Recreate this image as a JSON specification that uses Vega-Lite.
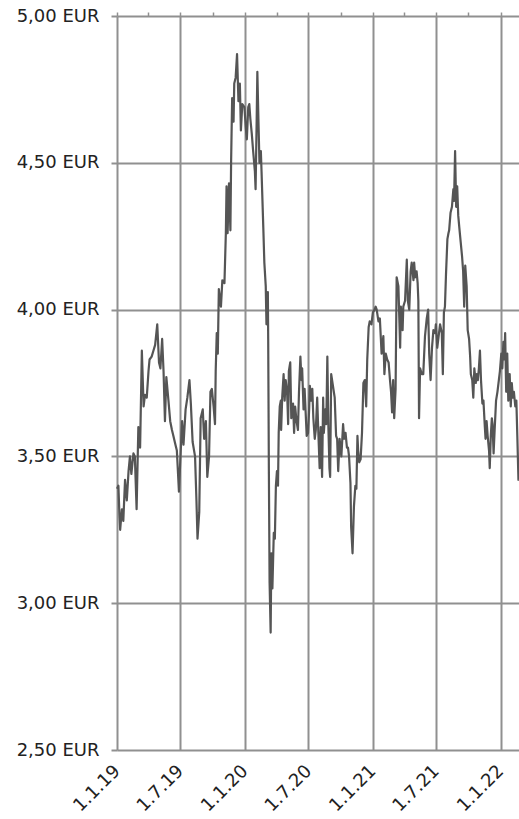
{
  "$schema": "https://vega.github.io/schema/vega-lite/v6.json",
  "width": 402,
  "height": 734,
  "autosize": "none",
  "padding": {"left": 117, "top": 16, "right": 0, "bottom": 69},
  "background": "white",
  "config": {"view": {"stroke": null}, "font": "DejaVu Sans", "axis": {"labelFont": "DejaVu Sans"}},
  "data": {"values": [
    {"date":"2019-01-01","price":3.39},{"date":"2019-01-05","price":3.40},{"date":"2019-01-08","price":3.30},{"date":"2019-01-10","price":3.25},
    {"date":"2019-01-15","price":3.32},{"date":"2019-01-19","price":3.28},{"date":"2019-01-24","price":3.42},{"date":"2019-01-29","price":3.35},
    {"date":"2019-02-03","price":3.45},{"date":"2019-02-07","price":3.50},{"date":"2019-02-11","price":3.44},{"date":"2019-02-17","price":3.51},
    {"date":"2019-02-21","price":3.50},{"date":"2019-02-26","price":3.32},{"date":"2019-03-03","price":3.60},{"date":"2019-03-08","price":3.53},
    {"date":"2019-03-13","price":3.86},{"date":"2019-03-18","price":3.67},{"date":"2019-03-22","price":3.71},{"date":"2019-03-27","price":3.70},
    {"date":"2019-04-01","price":3.79},{"date":"2019-04-04","price":3.83},{"date":"2019-04-10","price":3.84},{"date":"2019-04-15","price":3.86},
    {"date":"2019-04-20","price":3.88},{"date":"2019-04-26","price":3.95},{"date":"2019-05-01","price":3.82},{"date":"2019-05-05","price":3.80},
    {"date":"2019-05-10","price":3.90},{"date":"2019-05-14","price":3.79},{"date":"2019-05-18","price":3.62},{"date":"2019-05-22","price":3.77},
    {"date":"2019-05-28","price":3.69},{"date":"2019-06-02","price":3.62},{"date":"2019-06-07","price":3.59},{"date":"2019-06-11","price":3.57},
    {"date":"2019-06-17","price":3.54},{"date":"2019-06-21","price":3.52},{"date":"2019-06-27","price":3.38},{"date":"2019-07-01","price":3.49},
    {"date":"2019-07-06","price":3.62},{"date":"2019-07-10","price":3.54},{"date":"2019-07-16","price":3.66},{"date":"2019-07-21","price":3.70},
    {"date":"2019-07-27","price":3.76},{"date":"2019-07-31","price":3.68},{"date":"2019-08-05","price":3.55},{"date":"2019-08-12","price":3.50},
    {"date":"2019-08-16","price":3.35},{"date":"2019-08-19","price":3.22},{"date":"2019-08-24","price":3.31},{"date":"2019-08-28","price":3.63},
    {"date":"2019-09-03","price":3.66},{"date":"2019-09-07","price":3.56},{"date":"2019-09-12","price":3.62},{"date":"2019-09-16","price":3.43},
    {"date":"2019-09-21","price":3.50},{"date":"2019-09-25","price":3.72},{"date":"2019-09-29","price":3.73},{"date":"2019-10-04","price":3.67},
    {"date":"2019-10-08","price":3.61},{"date":"2019-10-10","price":3.79},{"date":"2019-10-13","price":3.92},{"date":"2019-10-16","price":3.85},
    {"date":"2019-10-19","price":4.07},{"date":"2019-10-25","price":4.01},{"date":"2019-10-29","price":4.10},{"date":"2019-11-04","price":4.09},
    {"date":"2019-11-08","price":4.26},{"date":"2019-11-10","price":4.42},{"date":"2019-11-13","price":4.26},{"date":"2019-11-17","price":4.43},
    {"date":"2019-11-21","price":4.27},{"date":"2019-11-23","price":4.50},{"date":"2019-11-26","price":4.72},{"date":"2019-11-30","price":4.64},
    {"date":"2019-12-02","price":4.77},{"date":"2019-12-06","price":4.79},{"date":"2019-12-10","price":4.87},{"date":"2019-12-14","price":4.71},
    {"date":"2019-12-18","price":4.77},{"date":"2019-12-21","price":4.61},{"date":"2019-12-25","price":4.70},{"date":"2019-12-31","price":4.69},
    {"date":"2020-01-04","price":4.62},{"date":"2020-01-07","price":4.58},{"date":"2020-01-11","price":4.69},{"date":"2020-01-14","price":4.70},
    {"date":"2020-01-17","price":4.65},{"date":"2020-01-21","price":4.60},{"date":"2020-01-25","price":4.54},{"date":"2020-01-30","price":4.47},
    {"date":"2020-02-01","price":4.41},{"date":"2020-02-04","price":4.64},{"date":"2020-02-06","price":4.81},{"date":"2020-02-09","price":4.65},
    {"date":"2020-02-12","price":4.50},{"date":"2020-02-16","price":4.54},{"date":"2020-02-18","price":4.47},{"date":"2020-02-23","price":4.28},
    {"date":"2020-02-26","price":4.16},{"date":"2020-03-01","price":4.08},{"date":"2020-03-03","price":3.95},{"date":"2020-03-07","price":4.06},
    {"date":"2020-03-08","price":3.90},{"date":"2020-03-10","price":3.44},{"date":"2020-03-12","price":3.07},{"date":"2020-03-15","price":2.90},
    {"date":"2020-03-17","price":3.17},{"date":"2020-03-20","price":3.05},{"date":"2020-03-24","price":3.24},{"date":"2020-03-27","price":3.22},
    {"date":"2020-03-30","price":3.40},{"date":"2020-04-02","price":3.45},{"date":"2020-04-05","price":3.40},{"date":"2020-04-07","price":3.58},
    {"date":"2020-04-10","price":3.67},{"date":"2020-04-13","price":3.69},{"date":"2020-04-14","price":3.59},{"date":"2020-04-17","price":3.70},
    {"date":"2020-04-21","price":3.78},{"date":"2020-04-24","price":3.69},{"date":"2020-04-27","price":3.76},{"date":"2020-05-01","price":3.72},
    {"date":"2020-05-04","price":3.61},{"date":"2020-05-06","price":3.79},{"date":"2020-05-10","price":3.82},{"date":"2020-05-13","price":3.63},
    {"date":"2020-05-18","price":3.68},{"date":"2020-05-21","price":3.58},{"date":"2020-05-24","price":3.67},{"date":"2020-05-28","price":3.62},
    {"date":"2020-06-01","price":3.59},{"date":"2020-06-04","price":3.72},{"date":"2020-06-08","price":3.84},{"date":"2020-06-11","price":3.76},
    {"date":"2020-06-13","price":3.80},{"date":"2020-06-17","price":3.66},{"date":"2020-06-20","price":3.73},{"date":"2020-06-23","price":3.65},
    {"date":"2020-06-26","price":3.57},{"date":"2020-06-30","price":3.58},{"date":"2020-07-03","price":3.66},{"date":"2020-07-05","price":3.74},
    {"date":"2020-07-09","price":3.69},{"date":"2020-07-12","price":3.73},{"date":"2020-07-15","price":3.63},{"date":"2020-07-19","price":3.56},
    {"date":"2020-07-22","price":3.59},{"date":"2020-07-26","price":3.70},{"date":"2020-07-29","price":3.59},{"date":"2020-08-02","price":3.46},
    {"date":"2020-08-05","price":3.60},{"date":"2020-08-09","price":3.43},{"date":"2020-08-12","price":3.70},{"date":"2020-08-14","price":3.58},
    {"date":"2020-08-18","price":3.66},{"date":"2020-08-21","price":3.61},{"date":"2020-08-24","price":3.84},{"date":"2020-08-27","price":3.60},
    {"date":"2020-08-30","price":3.46},{"date":"2020-09-01","price":3.43},{"date":"2020-09-04","price":3.78},{"date":"2020-09-09","price":3.74},
    {"date":"2020-09-14","price":3.70},{"date":"2020-09-18","price":3.57},{"date":"2020-09-21","price":3.56},{"date":"2020-09-24","price":3.45},
    {"date":"2020-09-28","price":3.56},{"date":"2020-10-03","price":3.50},{"date":"2020-10-08","price":3.61},{"date":"2020-10-11","price":3.56},
    {"date":"2020-10-15","price":3.58},{"date":"2020-10-19","price":3.53},{"date":"2020-10-22","price":3.53},{"date":"2020-10-25","price":3.50},
    {"date":"2020-10-29","price":3.41},{"date":"2020-10-31","price":3.26},{"date":"2020-11-04","price":3.17},{"date":"2020-11-08","price":3.33},
    {"date":"2020-11-12","price":3.40},{"date":"2020-11-15","price":3.39},{"date":"2020-11-18","price":3.57},{"date":"2020-11-20","price":3.52},
    {"date":"2020-11-23","price":3.48},{"date":"2020-11-27","price":3.49},{"date":"2020-12-01","price":3.58},{"date":"2020-12-05","price":3.75},
    {"date":"2020-12-09","price":3.76},{"date":"2020-12-13","price":3.67},{"date":"2020-12-16","price":3.83},{"date":"2020-12-20","price":3.94},
    {"date":"2020-12-23","price":3.96},{"date":"2020-12-28","price":3.95},{"date":"2021-01-01","price":3.99},{"date":"2021-01-06","price":4.00},
    {"date":"2021-01-09","price":4.01},{"date":"2021-01-12","price":4.00},{"date":"2021-01-17","price":3.96},{"date":"2021-01-21","price":3.97},
    {"date":"2021-01-26","price":3.85},{"date":"2021-01-31","price":3.91},{"date":"2021-02-03","price":3.78},{"date":"2021-02-07","price":3.85},
    {"date":"2021-02-11","price":3.83},{"date":"2021-02-15","price":3.82},{"date":"2021-02-19","price":3.76},{"date":"2021-02-22","price":3.72},
    {"date":"2021-02-25","price":3.65},{"date":"2021-02-28","price":3.76},{"date":"2021-03-03","price":3.63},{"date":"2021-03-07","price":3.73},
    {"date":"2021-03-10","price":4.11},{"date":"2021-03-15","price":4.08},{"date":"2021-03-20","price":3.87},{"date":"2021-03-22","price":4.01},
    {"date":"2021-03-27","price":3.93},{"date":"2021-03-29","price":4.01},{"date":"2021-04-03","price":4.03},{"date":"2021-04-08","price":4.17},
    {"date":"2021-04-11","price":4.03},{"date":"2021-04-15","price":4.00},{"date":"2021-04-19","price":4.13},{"date":"2021-04-22","price":4.16},
    {"date":"2021-04-27","price":4.10},{"date":"2021-04-29","price":4.16},{"date":"2021-05-02","price":4.11},{"date":"2021-05-06","price":4.13},
    {"date":"2021-05-09","price":4.09},{"date":"2021-05-11","price":4.03},{"date":"2021-05-13","price":3.63},{"date":"2021-05-16","price":3.80},
    {"date":"2021-05-21","price":3.78},{"date":"2021-05-25","price":3.78},{"date":"2021-05-30","price":3.91},{"date":"2021-06-04","price":3.97},
    {"date":"2021-06-08","price":4.00},{"date":"2021-06-11","price":3.85},{"date":"2021-06-15","price":3.76},{"date":"2021-06-19","price":3.87},
    {"date":"2021-06-23","price":3.93},{"date":"2021-06-28","price":3.92},{"date":"2021-06-30","price":3.95},{"date":"2021-07-04","price":3.87},
    {"date":"2021-07-08","price":3.91},{"date":"2021-07-12","price":3.95},{"date":"2021-07-17","price":3.92},{"date":"2021-07-20","price":3.78},
    {"date":"2021-07-23","price":3.99},{"date":"2021-07-26","price":4.01},{"date":"2021-07-29","price":4.12},{"date":"2021-08-02","price":4.24},
    {"date":"2021-08-05","price":4.26},{"date":"2021-08-07","price":4.27},{"date":"2021-08-11","price":4.33},{"date":"2021-08-15","price":4.35},
    {"date":"2021-08-19","price":4.41},{"date":"2021-08-21","price":4.37},{"date":"2021-08-24","price":4.54},{"date":"2021-08-27","price":4.35},
    {"date":"2021-08-30","price":4.42},{"date":"2021-09-02","price":4.32},{"date":"2021-09-05","price":4.28},{"date":"2021-09-09","price":4.23},
    {"date":"2021-09-13","price":4.18},{"date":"2021-09-16","price":4.13},{"date":"2021-09-19","price":4.01},{"date":"2021-09-22","price":4.15},
    {"date":"2021-09-26","price":4.08},{"date":"2021-09-29","price":3.93},{"date":"2021-10-03","price":3.90},{"date":"2021-10-06","price":3.84},
    {"date":"2021-10-08","price":3.78},{"date":"2021-10-12","price":3.76},{"date":"2021-10-15","price":3.70},{"date":"2021-10-18","price":3.80},
    {"date":"2021-10-22","price":3.75},{"date":"2021-10-25","price":3.78},{"date":"2021-10-28","price":3.76},{"date":"2021-10-31","price":3.80},
    {"date":"2021-11-03","price":3.86},{"date":"2021-11-06","price":3.76},{"date":"2021-11-10","price":3.68},{"date":"2021-11-13","price":3.69},
    {"date":"2021-11-17","price":3.60},{"date":"2021-11-19","price":3.56},{"date":"2021-11-22","price":3.62},{"date":"2021-11-25","price":3.57},
    {"date":"2021-11-29","price":3.52},{"date":"2021-12-01","price":3.46},{"date":"2021-12-04","price":3.57},{"date":"2021-12-07","price":3.63},
    {"date":"2021-12-09","price":3.61},{"date":"2021-12-12","price":3.51},{"date":"2021-12-15","price":3.59},{"date":"2021-12-19","price":3.69},
    {"date":"2021-12-23","price":3.72},{"date":"2021-12-27","price":3.76},{"date":"2021-12-30","price":3.79},{"date":"2022-01-03","price":3.85},
    {"date":"2022-01-06","price":3.80},{"date":"2022-01-09","price":3.89},{"date":"2022-01-12","price":3.83},{"date":"2022-01-14","price":3.92},
    {"date":"2022-01-17","price":3.72},{"date":"2022-01-20","price":3.85},{"date":"2022-01-23","price":3.69},{"date":"2022-01-27","price":3.78},
    {"date":"2022-01-30","price":3.67},{"date":"2022-02-02","price":3.75},{"date":"2022-02-05","price":3.70},{"date":"2022-02-08","price":3.72},
    {"date":"2022-02-12","price":3.67},{"date":"2022-02-15","price":3.69},{"date":"2022-02-18","price":3.56},{"date":"2022-02-21","price":3.42},
    {"date":"2022-02-22","price":3.42}
  ]},
  "layer": [
    {
      "mark": {"type": "line", "color": "#555555", "strokeWidth": 2.2, "strokeJoin": "round"},
      "encoding": {
        "x": {
          "field": "date", "type": "temporal",
          "scale": {"type": "utc", "domain": [{"year": 2019, "month": 1, "date": 1, "utc": true}, {"year": 2022, "month": 2, "date": 22, "hours": 14, "utc": true}]},
          "axis": {
            "orient": "bottom", "title": null,
            "values": [
              {"year": 2019, "month": 1, "date": 1, "utc": true},
              {"year": 2019, "month": 7, "date": 1, "utc": true},
              {"year": 2020, "month": 1, "date": 1, "utc": true},
              {"year": 2020, "month": 7, "date": 1, "utc": true},
              {"year": 2021, "month": 1, "date": 1, "utc": true},
              {"year": 2021, "month": 7, "date": 1, "utc": true},
              {"year": 2022, "month": 1, "date": 1, "utc": true}
            ],
            "labelExpr": "utcFormat(datum.value, '%-d.%-m.%y')",
            "labelAngle": -45, "labelAlign": "right", "labelBaseline": "middle",
            "labelFontSize": 18, "labelFont": "DejaVu Sans", "labelColor": "#222222", "labelPadding": 18,
            "ticks": false, "domain": false,
            "grid": true, "gridColor": "#909090", "gridWidth": 2
          }
        },
        "y": {
          "field": "price", "type": "quantitative",
          "scale": {"domain": [2.5, 5], "zero": false, "nice": false},
          "axis": {
            "title": null, "values": [2.5, 3, 3.5, 4, 4.5, 5],
            "labelExpr": "replace(format(datum.value, '.2f'), '.', ',') + ' EUR'",
            "labelFontSize": 18, "labelFont": "DejaVu Sans", "labelColor": "#222222", "labelPadding": 12,
            "tickSize": 6, "tickColor": "#909090", "tickWidth": 2,
            "domain": false, "grid": true, "gridColor": "#909090", "gridWidth": 2
          }
        }
      }
    },
    {
      "mark": {"type": "line", "strokeOpacity": 0},
      "encoding": {
        "x": {
          "field": "date", "type": "temporal",
          "axis": {
            "orient": "top", "title": null, "labels": false, "domain": false, "grid": false,
            "tickSize": 4, "tickColor": "#909090", "tickWidth": 1.5,
            "values": [
              {"year": 2019, "month": 1, "date": 1, "utc": true},
              {"year": 2019, "month": 4, "date": 1, "utc": true},
              {"year": 2019, "month": 7, "date": 1, "utc": true},
              {"year": 2019, "month": 10, "date": 1, "utc": true},
              {"year": 2020, "month": 1, "date": 1, "utc": true},
              {"year": 2020, "month": 4, "date": 1, "utc": true},
              {"year": 2020, "month": 7, "date": 1, "utc": true},
              {"year": 2020, "month": 10, "date": 1, "utc": true},
              {"year": 2021, "month": 1, "date": 1, "utc": true},
              {"year": 2021, "month": 4, "date": 1, "utc": true},
              {"year": 2021, "month": 7, "date": 1, "utc": true},
              {"year": 2021, "month": 10, "date": 1, "utc": true},
              {"year": 2022, "month": 1, "date": 1, "utc": true}
            ]
          }
        },
        "y": {"field": "price", "type": "quantitative", "scale": {"domain": [2.5, 5], "nice": false}}
      }
    }
  ],
  "resolve": {"axis": {"x": "independent"}}
}
